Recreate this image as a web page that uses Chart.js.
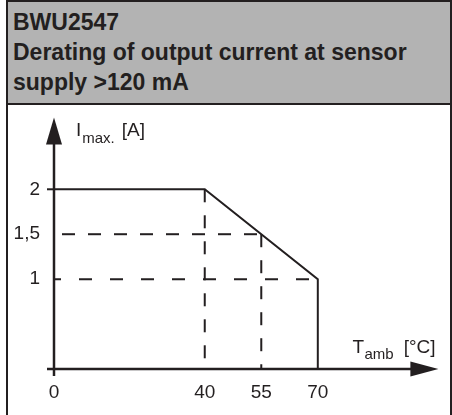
<!DOCTYPE html>
<html>
<head>
<meta charset="utf-8">
<script src="https://cdn.jsdelivr.net/npm/chart.js@4/dist/chart.umd.min.js"></script>
<style>
  html, body { margin: 0; padding: 0; background: #fff; width: 452px; height: 415px; overflow: hidden; }
  #frame { position: absolute; left: 6px; top: 0; width: 442px; height: 413px;
           border-left: 2px solid #231f20; border-right: 2px solid #231f20; border-top: 2px solid #231f20; }
  #head { position: absolute; left: 0; top: 0; width: 437px; height: 96px; padding: 5px 0 0 5px;
          background: #b3b3b3; border-bottom: 2px solid #231f20;
          font: bold 23px "Liberation Sans", Arial, sans-serif; line-height: 30px; color: #231f20; white-space: nowrap; }
  #c { position: absolute; left: 0; top: 0; }
</style>
</head>
<body>
<div id="frame"><div id="head">BWU2547<br>Derating of output current at sensor<br>supply &gt;120 mA</div></div>
<canvas id="c" width="452" height="415"></canvas>
<script>
// ---- data ----
const xTickValues = [0, 40, 55, 70];          // T_amb [°C] tick labels
const yTickValues = [1, 1.5, 2];              // I_max [A] tick labels
const deratingTemp = [0, 40, 70, 70];         // derating curve, x
const deratingCurrent = [2, 2, 1, 0];         // derating curve, y
const guideVTemp = [40, 55];                  // vertical dashed guides (from curve down to 0)
const guideVCurrent = [2, 1.5];
const guideHCurrent = [1.5, 1];               // horizontal dashed guides (from 0 to curve)
const guideHTemp = [55, 70];
const yAxisTitle = ['I', 'max.', '[A]'];
const xAxisTitle = ['T', 'amb', '[°C]'];

const INK = '#231f20';
const FONT = '"Liberation Sans", Arial, sans-serif';
Chart.defaults.font.family = FONT;

const datasets = [];
datasets.push({
  data: deratingTemp.map((t, i) => ({ x: t, y: deratingCurrent[i] })),
  borderColor: INK, borderWidth: 2, pointRadius: 0, borderJoinStyle: 'miter', tension: 0
});
guideVTemp.forEach((t, i) => datasets.push({
  data: [{ x: t, y: guideVCurrent[i] }, { x: t, y: 0 }],
  borderColor: INK, borderWidth: 2, pointRadius: 0, borderDash: [13, 13], borderDashOffset: 0
}));
guideHCurrent.forEach((c, i) => datasets.push({
  data: [{ x: 0, y: c }, { x: guideHTemp[i], y: c }],
  borderColor: INK, borderWidth: 2, pointRadius: 0,
  borderDash: i === 0 ? [13, 13] : [13, 18], borderDashOffset: i === 0 ? 18 : 6
}));

const axesPlugin = {
  id: 'axesArrows',
  afterDatasetsDraw(chart) {
    const { ctx, chartArea, scales } = chart;
    const x0 = scales.x.getPixelForValue(0);
    const y0 = scales.y.getPixelForValue(0);
    const right = chartArea.right, top = chartArea.top;
    ctx.save();
    ctx.strokeStyle = INK; ctx.fillStyle = INK; ctx.lineWidth = 2.5; ctx.lineCap = 'butt';
    // x axis
    ctx.beginPath(); ctx.moveTo(x0 - 7, y0); ctx.lineTo(right - 26, y0); ctx.stroke();
    ctx.beginPath(); ctx.moveTo(right, y0); ctx.lineTo(right - 28, y0 - 7.5); ctx.lineTo(right - 28, y0 + 7.5); ctx.closePath(); ctx.fill();
    // y axis
    ctx.beginPath(); ctx.moveTo(x0, y0 + 7); ctx.lineTo(x0, top + 25); ctx.stroke();
    ctx.beginPath(); ctx.moveTo(x0, top); ctx.lineTo(x0 - 8, top + 27); ctx.lineTo(x0 + 8, top + 27); ctx.closePath(); ctx.fill();
    // tick at top value
    const y2 = scales.y.getPixelForValue(yTickValues[yTickValues.length - 1]);
    ctx.lineWidth = 2;
    ctx.beginPath(); ctx.moveTo(x0 - 7, y2); ctx.lineTo(x0, y2); ctx.stroke();
    // axis titles with subscripts
    ctx.textBaseline = 'alphabetic'; ctx.textAlign = 'left';
    const big = '19px ' + FONT, small = '15px ' + FONT;
    let tx = x0 + 22, ty = top + 19;
    ctx.font = big; ctx.fillText(yAxisTitle[0], tx, ty); tx += ctx.measureText(yAxisTitle[0]).width + 1;
    ctx.font = small; ctx.fillText(yAxisTitle[1], tx, ty + 7); tx += ctx.measureText(yAxisTitle[1]).width + 7;
    ctx.font = big; ctx.fillText(yAxisTitle[2], tx, ty);
    tx = right - 86; ty = y0 - 16;
    ctx.font = big; ctx.fillText(xAxisTitle[0], tx, ty); tx += ctx.measureText(xAxisTitle[0]).width + 0.5;
    ctx.font = small; ctx.fillText(xAxisTitle[1], tx, ty + 6); tx += ctx.measureText(xAxisTitle[1]).width + 10;
    ctx.font = big; ctx.fillText(xAxisTitle[2], tx, ty);
    ctx.restore();
  }
};

new Chart(document.getElementById('c'), {
  type: 'line',
  data: { datasets },
  options: {
    responsive: false, animation: false, devicePixelRatio: 1,
    layout: { padding: { left: 14, right: 13.6, top: 117.4, bottom: 6 } },
    plugins: { legend: { display: false }, tooltip: { enabled: false } },
    scales: {
      x: {
        type: 'linear', min: 0, max: 102,
        grid: { display: false, drawTicks: false }, border: { display: false },
        afterBuildTicks: s => { s.ticks = xTickValues.map(v => ({ value: v })); },
        afterFit: s => { s.height = 40; },
        ticks: { color: INK, font: { size: 19 }, padding: 12, maxRotation: 0, autoSkip: false }
      },
      y: {
        type: 'linear', min: 0, max: 2.8,
        grid: { display: false, drawTicks: false }, border: { display: false },
        afterBuildTicks: s => { s.ticks = yTickValues.map(v => ({ value: v })); },
        afterFit: s => { s.width = 40; },
        ticks: { color: INK, font: { size: 19 }, padding: 14, autoSkip: false,
                 callback: v => String(v).replace('.', ',') }
      }
    }
  },
  plugins: [axesPlugin]
});
</script>
</body>
</html>
